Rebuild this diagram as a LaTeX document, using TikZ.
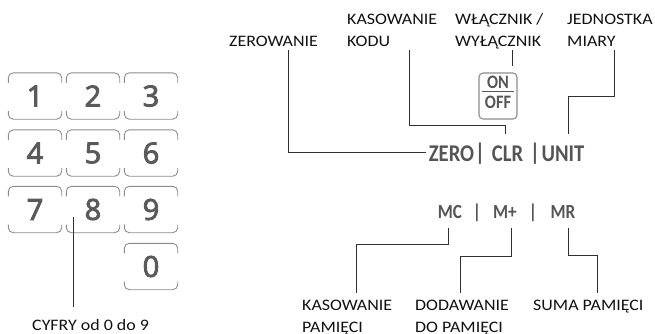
\documentclass[tikz,border=0pt]{standalone}
\usepackage{fontspec}
\setmainfont{Carlito}[FakeStretch=1.12]
\newfontfamily\keyfont{Open Sans}[FakeBold=3]
\newfontfamily\btnfont{Carlito}[FakeStretch=0.86]
\definecolor{keygray}{HTML}{5A5A5A}
\definecolor{keyedge}{HTML}{8C8C8C}
\definecolor{btngray}{HTML}{555555}
\definecolor{labelcol}{HTML}{111111}
\definecolor{leadcol}{HTML}{303030}

\begin{document}
\begin{tikzpicture}[x=1pt, y=-1pt,
    key/.style={minimum width=53pt, minimum height=46pt, inner sep=0pt, text=keygray, font=\keyfont\fontsize{29}{29}\selectfont},
    keyline/.style={draw=keyedge, line width=0.9pt, rounded corners=5pt},
    lbl/.style={anchor=base west, inner sep=0pt, align=left, text=labelcol, font=\fontsize{16}{22}\selectfont},
    btn/.style={inner sep=0pt, text=btngray, font=\btnfont\bfseries\fontsize{#1}{#1}\selectfont},
    onoff/.style={draw=keyedge, line width=1.1pt, rounded corners=4pt, minimum width=38pt, minimum height=46pt, inner sep=0pt},
    leader/.style={draw=leadcol, line width=0.9pt}
]
    \useasboundingbox (0,0) rectangle (655,333);

    % Klawiatura numeryczna
    \foreach \n/\x/\y in {1/35/96, 2/93/96, 3/151/96, 4/35/153, 5/93/153, 6/151/153,
                          7/35/209.5, 8/93/209.5, 9/151/209.5, 0/151/266.5} {
        \node[key] (k\n) at (\x,\y) {\n};
        \draw[keyline] ([yshift=-10pt]k\n.north west) -- (k\n.north west) -- (k\n.north east) -- ([yshift=-10pt]k\n.north east);
        \draw[keyline] ([yshift=8pt]k\n.south west) -- (k\n.south west) -- (k\n.south east) -- ([yshift=8pt]k\n.south east);
    }
    \coordinate (d8) at (73,217);
    \node[lbl] (cyfry) at (32,330) {CYFRY od 0 do 9};
    \draw[leader] (d8) -- ([yshift=12pt]d8 |- cyfry.north);

    % Przyciski funkcyjne
    \node[onoff] (onoff) at (498,96) {};
    \node[btn=19] (on) at (498,82) {ON};
    \node[btn=19] (off) at (498,102.5) {OFF};
    \draw[draw=btngray, line width=1pt] ([xshift=-5pt,yshift=-2.5pt]on.south west) -- ([xshift=5pt,yshift=-2.5pt]on.south east);

    \foreach \nm/\x/\t in {bzero/451.5/ZERO, sep1/480/|, bclr/507.5/CLR, sep2/535/|, bunit/563/UNIT} {
        \node[btn=24] (\nm) at (\x,154) {\t};
    }
    \foreach \nm/\x/\t in {bmc/450/MC, sep3/477/|, bmp/505/M+, sep4/533/|, bmr/563/MR} {
        \node[btn=20] (\nm) at (\x,212.5) {\t};
    }

    % Opisy
    \node[lbl] (zer) at (229,46) {ZEROWANIE};
    \node[lbl] (kkod) at (347,46) {KASOWANIE\\KODU};
    \node[lbl] (wyl) at (455,46) {WŁĄCZNIK /\\WYŁĄCZNIK};
    \node[lbl] (jedn) at (567,46) {JEDNOSTKA\\MIARY};
    \node[lbl] (kpam) at (302,332) {KASOWANIE\\PAMIĘCI};
    \node[lbl] (dpam) at (415,332) {DODAWANIE\\DO PAMIĘCI};
    \node[lbl] (spam) at (533,310) {SUMA PAMIĘCI};

    % Linie odniesienia
    \coordinate (zer-a) at (288,50);
    \coordinate (kkod-a) at (409,50);
    \coordinate (wyl-a) at (512,50);
    \coordinate (jedn-a) at (614,50);
    \coordinate (kpam-a) at (356,293);
    \coordinate (dpam-a) at (460,293);
    \coordinate (spam-a) at (597,293);

    \draw[leader] (zer-a) |- ([xshift=-3pt,yshift=2pt]bzero.west);
    \draw[leader] (kkod-a) |- ([xshift=-2.5pt,yshift=20pt]bclr.north) -- ([xshift=-2.5pt,yshift=12pt]bclr.north);
    \draw[leader, shorten >=6pt] (wyl-a) -- (wyl-a |- onoff.north);
    \draw[leader] (jedn-a) |- ([xshift=5pt,yshift=49pt]bunit.north) -- ([xshift=5pt,yshift=12pt]bunit.north);

    \draw[leader] ([xshift=-2pt,yshift=-9pt]bmc.south) -- ++(0,16) -| (kpam-a);
    \draw[leader] ([xshift=6pt,yshift=-9pt]bmp.south) -- ++(0,28) -| (dpam-a);
    \draw[leader] ([xshift=5pt,yshift=-9pt]bmr.south) -- ++(0,27) -| (spam-a);
\end{tikzpicture}
\end{document}
